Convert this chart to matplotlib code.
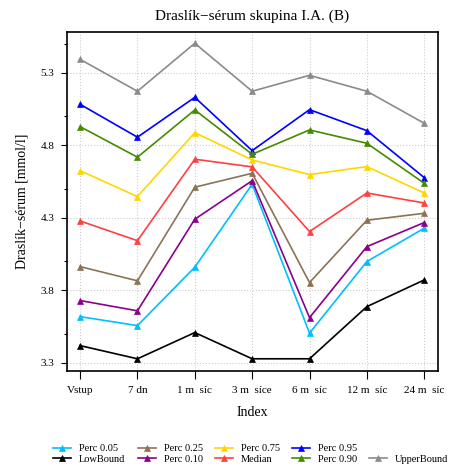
import matplotlib
matplotlib.use("Agg")
import matplotlib.pyplot as plt
from matplotlib.lines import Line2D

plt.rcParams['font.family'] = ['Liberation Serif', 'DejaVu Serif']

categories = ["Vstup", "7 dn", "1 m  síc", "3 m  síce", "6 m  síc", "12 m  síc", "24 m  síc"]

perc_005 = [3.619, 3.557, 3.960, 4.532, 3.505, 3.999, 4.229]
low_bound = [3.419, 3.328, 3.509, 3.328, 3.328, 3.688, 3.872]
perc_025 = [3.964, 3.866, 4.512, 4.608, 3.854, 4.284, 4.332]
perc_010 = [3.730, 3.659, 4.291, 4.557, 3.612, 4.102, 4.268]
perc_075 = [4.626, 4.447, 4.888, 4.700, 4.599, 4.654, 4.472]
median = [4.279, 4.143, 4.705, 4.652, 4.206, 4.472, 4.403]
perc_095 = [5.084, 4.857, 5.132, 4.764, 5.047, 4.902, 4.578]
perc_090 = [4.930, 4.719, 5.045, 4.739, 4.907, 4.815, 4.539]
upper_bound = [5.394, 5.174, 5.505, 5.174, 5.284, 5.174, 4.953]

y_ticks = [3.3, 3.8, 4.3, 4.8, 5.3]
y_minor = [3.5, 4.0, 4.5, 5.0, 5.5]

series = [
    ("Perc 0.05", perc_005, "#00BFFF"),
    ("LowBound", low_bound, "#000000"),
    ("Perc 0.25", perc_025, "#8B7355"),
    ("Perc 0.10", perc_010, "#8B008B"),
    ("Perc 0.75", perc_075, "#FFD700"),
    ("Median", median, "#FF4040"),
    ("Perc 0.95", perc_095, "#0000FF"),
    ("Perc 0.90", perc_090, "#458B00"),
    ("UpperBound", upper_bound, "#8B8B8B"),
]

fig = plt.figure(figsize=(4.52, 4.70), dpi=100)
ax = fig.add_axes([0.148, 0.211, 0.821, 0.721])

x = list(range(len(categories)))
handles = {}
for label, vals, color in series:
    ln, = ax.plot(x, vals, color=color, lw=1.2, marker='^', markersize=4,
                  markeredgewidth=0.5, label=label)
    handles[label] = ln

ax.set_xlim(-0.23, 6.24)
ax.set_ylim(3.245, 5.583)
ax.set_xticks(x)
ax.set_xticklabels(categories, fontsize=8)
ax.set_yticks(y_ticks)
ax.set_yticklabels([f"{v:.1f}" for v in y_ticks], fontsize=8)
ax.set_yticks(y_minor, minor=True)
ax.tick_params(axis='y', which='major', length=4, width=0.8, direction='out', pad=5)
ax.tick_params(axis='y', which='minor', length=2, width=0.8, direction='out')
ax.tick_params(axis='x', which='major', length=6, width=0.8, direction='out', pad=5)
ax.grid(True, which='major', linestyle=':', color='#CCCCCC', linewidth=0.8)
ax.set_axisbelow(True)
for s in ax.spines.values():
    s.set_linewidth(1.2)

ax.set_title("Draslík−sérum skupina I.A. (B)", fontsize=11, pad=9)
ax.set_xlabel("Index", fontsize=10, labelpad=8)
ax.set_ylabel("Draslík−sérum [mmol/l]", fontsize=10, labelpad=9)

blank = Line2D([], [], linestyle='none', marker=None)
order = ["Perc 0.05", "LowBound", "Perc 0.25", "Perc 0.10", "Perc 0.75", "Median",
         "Perc 0.95", "Perc 0.90", None, "UpperBound"]
hs = [handles[o] if o else blank for o in order]
ls = [o if o else "" for o in order]
fig.legend(hs, ls, loc='lower center', bbox_to_anchor=(0.555, 0.0), ncol=5,
           fontsize=7.5, frameon=False, handlelength=1.75, handletextpad=0.75,
           columnspacing=1.15, labelspacing=0.1, borderaxespad=0.2)

fig.savefig("out.png", dpi=100)
